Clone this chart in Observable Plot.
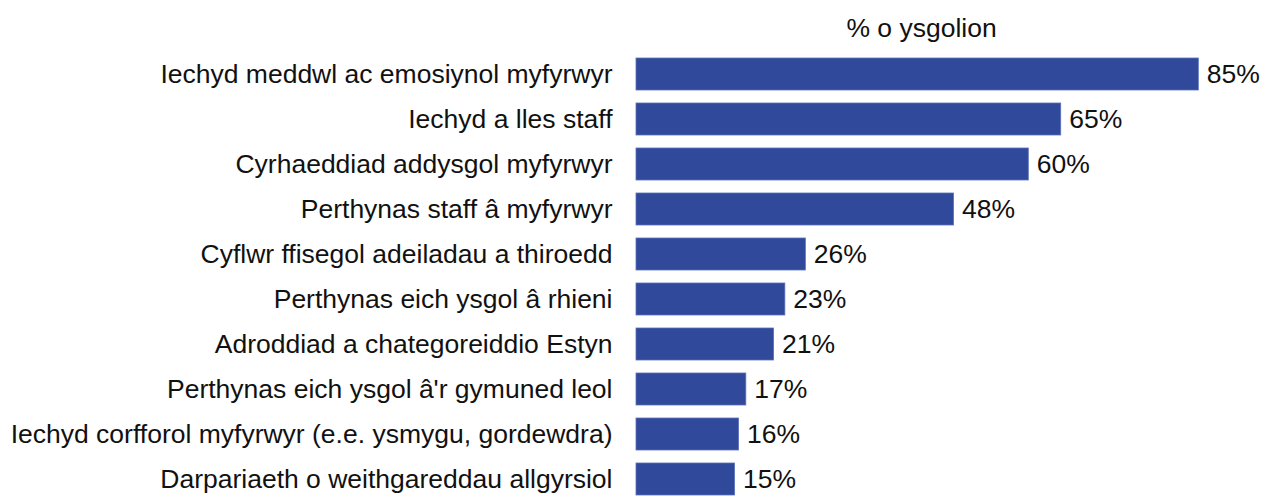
<!DOCTYPE html>
<html>
<head>
<meta charset="utf-8">
<script src="https://cdn.jsdelivr.net/npm/d3@7"></script>
<script src="https://cdn.jsdelivr.net/npm/@observablehq/plot@0.6"></script>
<style>
  html, body { margin: 0; padding: 0; background: #fff; }
  #chart svg { display: block; }
</style>
</head>
<body>
<div id="chart"></div>
<script>
const categories = [
  "Iechyd meddwl ac emosiynol myfyrwyr",
  "Iechyd a lles staff",
  "Cyrhaeddiad addysgol myfyrwyr",
  "Perthynas staff â myfyrwyr",
  "Cyflwr ffisegol adeiladau a thiroedd",
  "Perthynas eich ysgol â rhieni",
  "Adroddiad a chategoreiddio Estyn",
  "Perthynas eich ysgol â'r gymuned leol",
  "Iechyd corfforol myfyrwyr (e.e. ysmygu, gordewdra)",
  "Darpariaeth o weithgareddau allgyrsiol"
];
const values = [85, 64.2, 59.3, 48, 25.6, 22.5, 20.8, 16.6, 15.5, 14.9];
const valueLabels = ["85%", "65%", "60%", "48%", "26%", "23%", "21%", "17%", "16%", "15%"];
const axisTitle = "% o ysgolion";

const data = categories.map((c, i) => ({category: c, value: values[i], label: valueLabels[i]}));

const chart = Plot.plot({
  width: 1261,
  height: 496,
  marginLeft: 636,
  marginRight: 55,
  marginTop: 0,
  marginBottom: 0,
  style: {fontFamily: "'Liberation Sans', Arial, sans-serif", color: "#111", background: "#fff"},
  x: {domain: [0, 85], range: [636, 1198.3], axis: null},
  y: {domain: categories, range: [58, 497.7], paddingInner: 0.294, paddingOuter: 0, align: 0, label: null},
  marks: [
    Plot.barX(data, {x: "value", y: "category", fill: "#30499b", stroke: "#5a70b8", strokeWidth: 0.8}),
    Plot.text(data, {x: "value", y: "category", text: "label", dx: 8, textAnchor: "start", fontSize: 26.5, fill: "#111"}),
    Plot.axisY({tickSize: 0, tickPadding: 24, fontSize: 26.5, label: null}),
    Plot.text([axisTitle], {frameAnchor: "top", dy: 28, lineAnchor: "middle", fontSize: 26.5, fill: "#111"})
  ]
});
document.getElementById("chart").appendChild(chart);
</script>
</body>
</html>
